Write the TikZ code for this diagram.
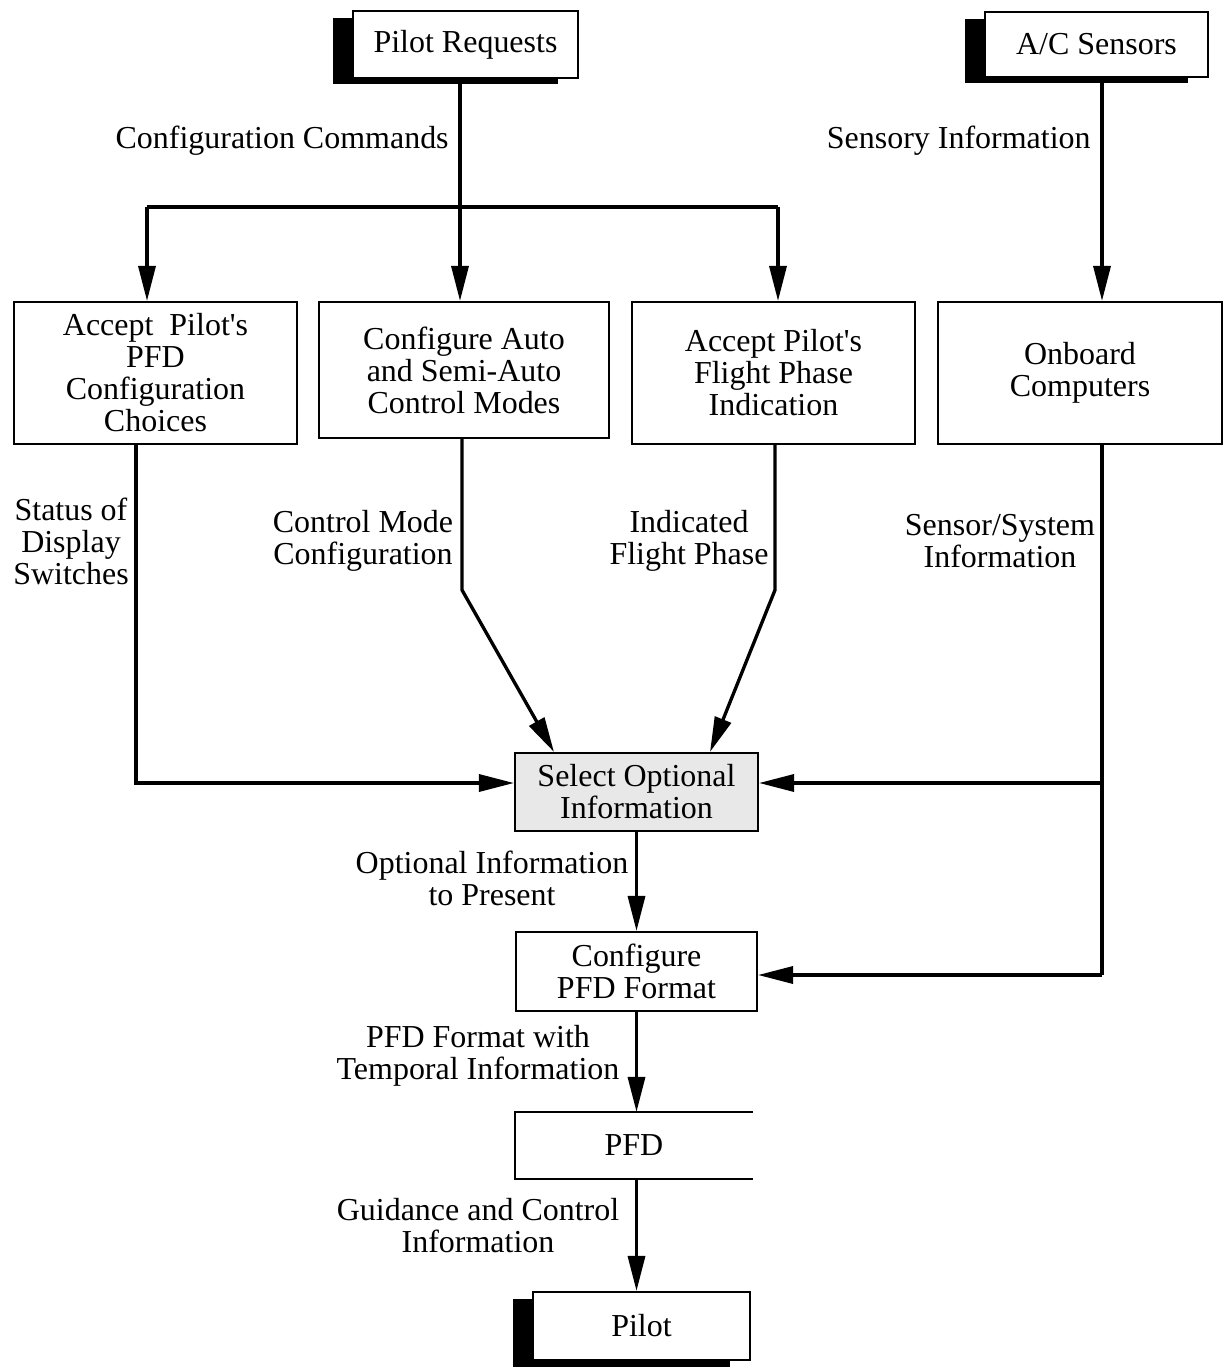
\documentclass[tikz,border=0pt]{standalone}
\usepackage{fontspec}
\setmainfont{Liberation Serif}
\usetikzlibrary{arrows.meta,shadows}

\begin{document}
\begin{tikzpicture}[
  x=0.02cm, y=-0.02cm,
  font=\fontsize{18.2}{18.2}\selectfont,
  box/.style={draw, line width=1.2pt, align=center, inner sep=0pt},
  term/.style={box, fill=white, drop shadow={shadow xshift=-0.4cm,
    shadow yshift=-0.13cm, fill=black, opacity=1}},
  lbl/.style={align=center, inner sep=0pt},
  line/.style={line width=1.9pt},
  arr/.style={line, -{Triangle[length=0.7cm, width=0.34cm]}}
]
\useasboundingbox (0,0) rectangle (1224,1372);

\node[term, minimum width=4.5cm, minimum height=1.34cm] (req) at (465.5,44.5) {Pilot Requests};
\node[term, minimum width=4.46cm, minimum height=1.3cm] (sensors) at (1096.5,44.5) {A/C Sensors};

\node[box, minimum width=5.66cm, minimum height=2.84cm] (pfdcfg) at (155.5,373) {Accept~ Pilot\textquotesingle s\\PFD\\Configuration\\Choices};
\node[box, minimum width=5.8cm, minimum height=2.72cm] (modes) at (464,370) {Configure Auto\\and Semi-Auto\\Control Modes};
\node[box, minimum width=5.66cm, minimum height=2.84cm] (phase) at (773.5,373) {Accept Pilot\textquotesingle s\\Flight Phase\\Indication};
\node[box, minimum width=5.68cm, minimum height=2.84cm] (onboard) at (1080,373) {Onboard\\Computers};

\node[box, fill=gray!18, minimum width=4.86cm, minimum height=1.56cm] (sel) at (636.5,792) {Select Optional\\Information};
\node[box, minimum width=4.82cm, minimum height=1.58cm] (cfg) at (636.5,971.5) {Configure\\PFD Format};
\node[box, draw=none, minimum width=4.72cm, minimum height=1.3cm] (pfd) at (634,1145.5) {PFD};
\draw[line width=1.2pt] (pfd.north east) -- (pfd.north west) -- (pfd.south west) -- (pfd.south east);
\node[term, minimum width=4.34cm, minimum height=1.36cm] (pilot) at (641.5,1326) {Pilot};

\node[lbl, anchor=east] (lcmd) at (449,141) {Configuration Commands};
\node[lbl, anchor=east] (lsens) at (1091,141) {Sensory Information};
\node[lbl] (lstat) at (71,541) {Status of\\Display\\Switches};
\node[lbl] (lmode) at (363,541) {Control Mode\\Configuration};
\node[lbl] (lphase) at (689,541) {Indicated\\Flight Phase};
\node[lbl] (lsys) at (1000,541) {Sensor/System\\Information};
\node[lbl] (lopt) at (492,878) {Optional Information\\to Present};
\node[lbl] (lfmt) at (478,1056) {PFD Format with\\Temporal Information};
\node[lbl] (lgui) at (478,1226) {Guidance and Control\\Information};

\coordinate (cA) at (147,207);
\coordinate (cB) at (460,207);
\coordinate (cC) at (778,207);
\coordinate (dA) at (136,783);
\coordinate (mA) at (462,590);
\coordinate (mB) at (775,590);
\coordinate (sA) at (1102,783);
\coordinate (sB) at (1102,975);

\draw[line] (req.south -| cB) -- (cB);
\draw[line] (cA) -- (cC);
\foreach \c/\n in {cA/pfdcfg, cB/modes, cC/phase}
  \draw[arr] (\c) -- (\c |- \n.north);
\draw[arr] (sensors.south -| sA) -- (sA |- onboard.north);

\draw[arr] (pfdcfg.south -| dA) -- (dA) -- (sel.west |- dA);
\draw[arr] (modes.south -| mA) -- (mA) -- ([xshift=0.8cm]sel.north west);
\draw[arr] (phase.south -| mB) -- (mB) -- ([xshift=-0.98cm]sel.north east);
\draw[line] (onboard.south -| sA) -- (sB);
\draw[arr] (sA) -- (sel.east |- sA);
\draw[arr] (sB) -- (cfg.east |- sB);

\draw[arr] (sel) -- (cfg);
\draw[arr] (cfg.south) -- (cfg.south |- pfd.north);
\draw[arr] (cfg.south |- pfd.south) -- (cfg.south |- pilot.north);
\end{tikzpicture}
\end{document}
